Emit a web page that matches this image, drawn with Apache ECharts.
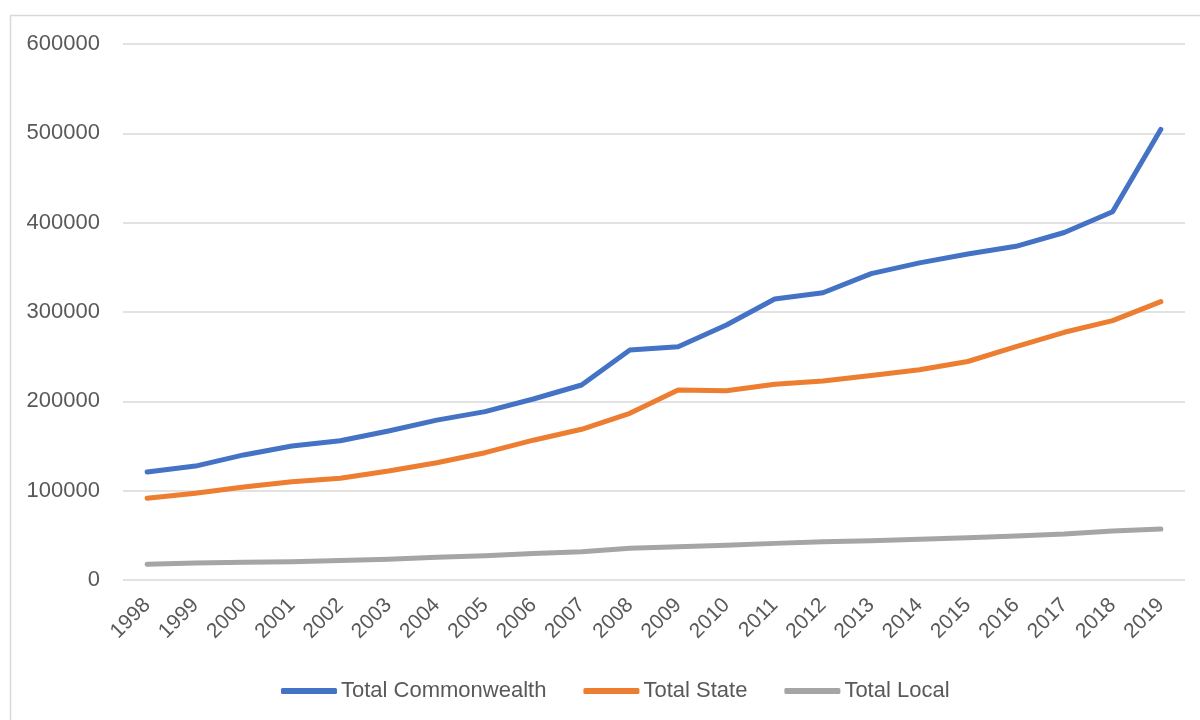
<!DOCTYPE html>
<html>
<head>
<meta charset="utf-8">
<title>Total Commonwealth, State and Local</title>
<script src="https://cdn.jsdelivr.net/npm/echarts@6/dist/echarts.min.js"></script>
<style>
  html, body { margin: 0; padding: 0; background: #ffffff; }
  #chart { width: 1200px; height: 720px; }
</style>
</head>
<body>
<div id="chart"></div>
<script>
// Years on the category axis
const years = ['1998', '1999', '2000', '2001', '2002', '2003', '2004', '2005', '2006', '2007', '2008',
               '2009', '2010', '2011', '2012', '2013', '2014', '2015', '2016', '2017', '2018', '2019'];

// Series values
const totalCommonwealth = [121000, 127500, 140000, 150000, 155800, 166800, 179000, 188500, 202600, 218300, 257500,
                           261200, 285400, 314600, 321600, 343000, 355000, 365000, 373500, 389000, 412300, 504500];
const totalState = [91500, 97000, 104000, 110000, 114000, 122000, 131300, 142500, 156500, 168700, 186600,
                    212700, 211900, 219100, 222800, 229000, 235300, 244600, 261200, 277300, 290300, 311600];
const totalLocal = [17500, 19000, 19800, 20500, 21800, 23300, 25400, 27200, 29700, 31700, 35500,
                    37300, 38800, 41000, 42900, 44000, 45500, 47200, 49300, 51500, 54900, 57100];

// Value axis ticks
const yMin = 0;
const yMax = 600000;
const yStep = 100000;

const seriesNames = ['Total Commonwealth', 'Total State', 'Total Local'];
const seriesColors = ['#4472C4', '#ED7D31', '#A5A5A5'];
const seriesData = [totalCommonwealth, totalState, totalLocal];

const textColor = '#595959';
const fontFamily = '"Liberation Sans", "DejaVu Sans", sans-serif';

const chart = echarts.init(document.getElementById('chart'), null, { renderer: 'canvas' });

chart.setOption({
  animation: false,
  backgroundColor: '#ffffff',
  textStyle: { fontFamily: fontFamily, color: textColor },
  graphic: [{
    type: 'rect',
    silent: true,
    shape: { x: 10.5, y: 15.5, width: 1220, height: 740 },
    style: { fill: null, stroke: '#d9d9d9', lineWidth: 1.5 }
  }],
  grid: {
    left: 123,
    right: 15,
    top: 44,
    bottom: 140,
    containLabel: false
  },
  legend: {
    top: 675,
    left: 276,
    icon: 'roundRect',
    itemWidth: 56,
    itemHeight: 6,
    itemGap: 37,
    textStyle: { fontFamily: fontFamily, color: textColor, fontSize: 22, padding: [0, 0, 0, -1] },
    data: seriesNames
  },
  xAxis: {
    type: 'category',
    data: years,
    boundaryGap: true,
    axisLine: { show: false },
    axisTick: { show: false },
    axisLabel: {
      rotate: 45,
      interval: 0,
      margin: 22,
      color: textColor,
      fontFamily: fontFamily,
      fontSize: 21
    }
  },
  yAxis: {
    type: 'value',
    min: yMin,
    max: yMax,
    interval: yStep,
    axisLine: { show: false },
    axisTick: { show: false },
    axisLabel: {
      margin: 23,
      color: textColor,
      fontFamily: fontFamily,
      fontSize: 22,
      formatter: (v) => String(v)
    },
    splitLine: { lineStyle: { color: '#d9d9d9', width: 1.5 } }
  },
  series: seriesNames.map((name, i) => ({
    name: name,
    type: 'line',
    data: seriesData[i],
    symbol: 'none',
    smooth: false,
    color: seriesColors[i],
    lineStyle: { color: seriesColors[i], width: 5, cap: 'round', join: 'round' },
    z: 3 - i
  }))
});
</script>
</body>
</html>
